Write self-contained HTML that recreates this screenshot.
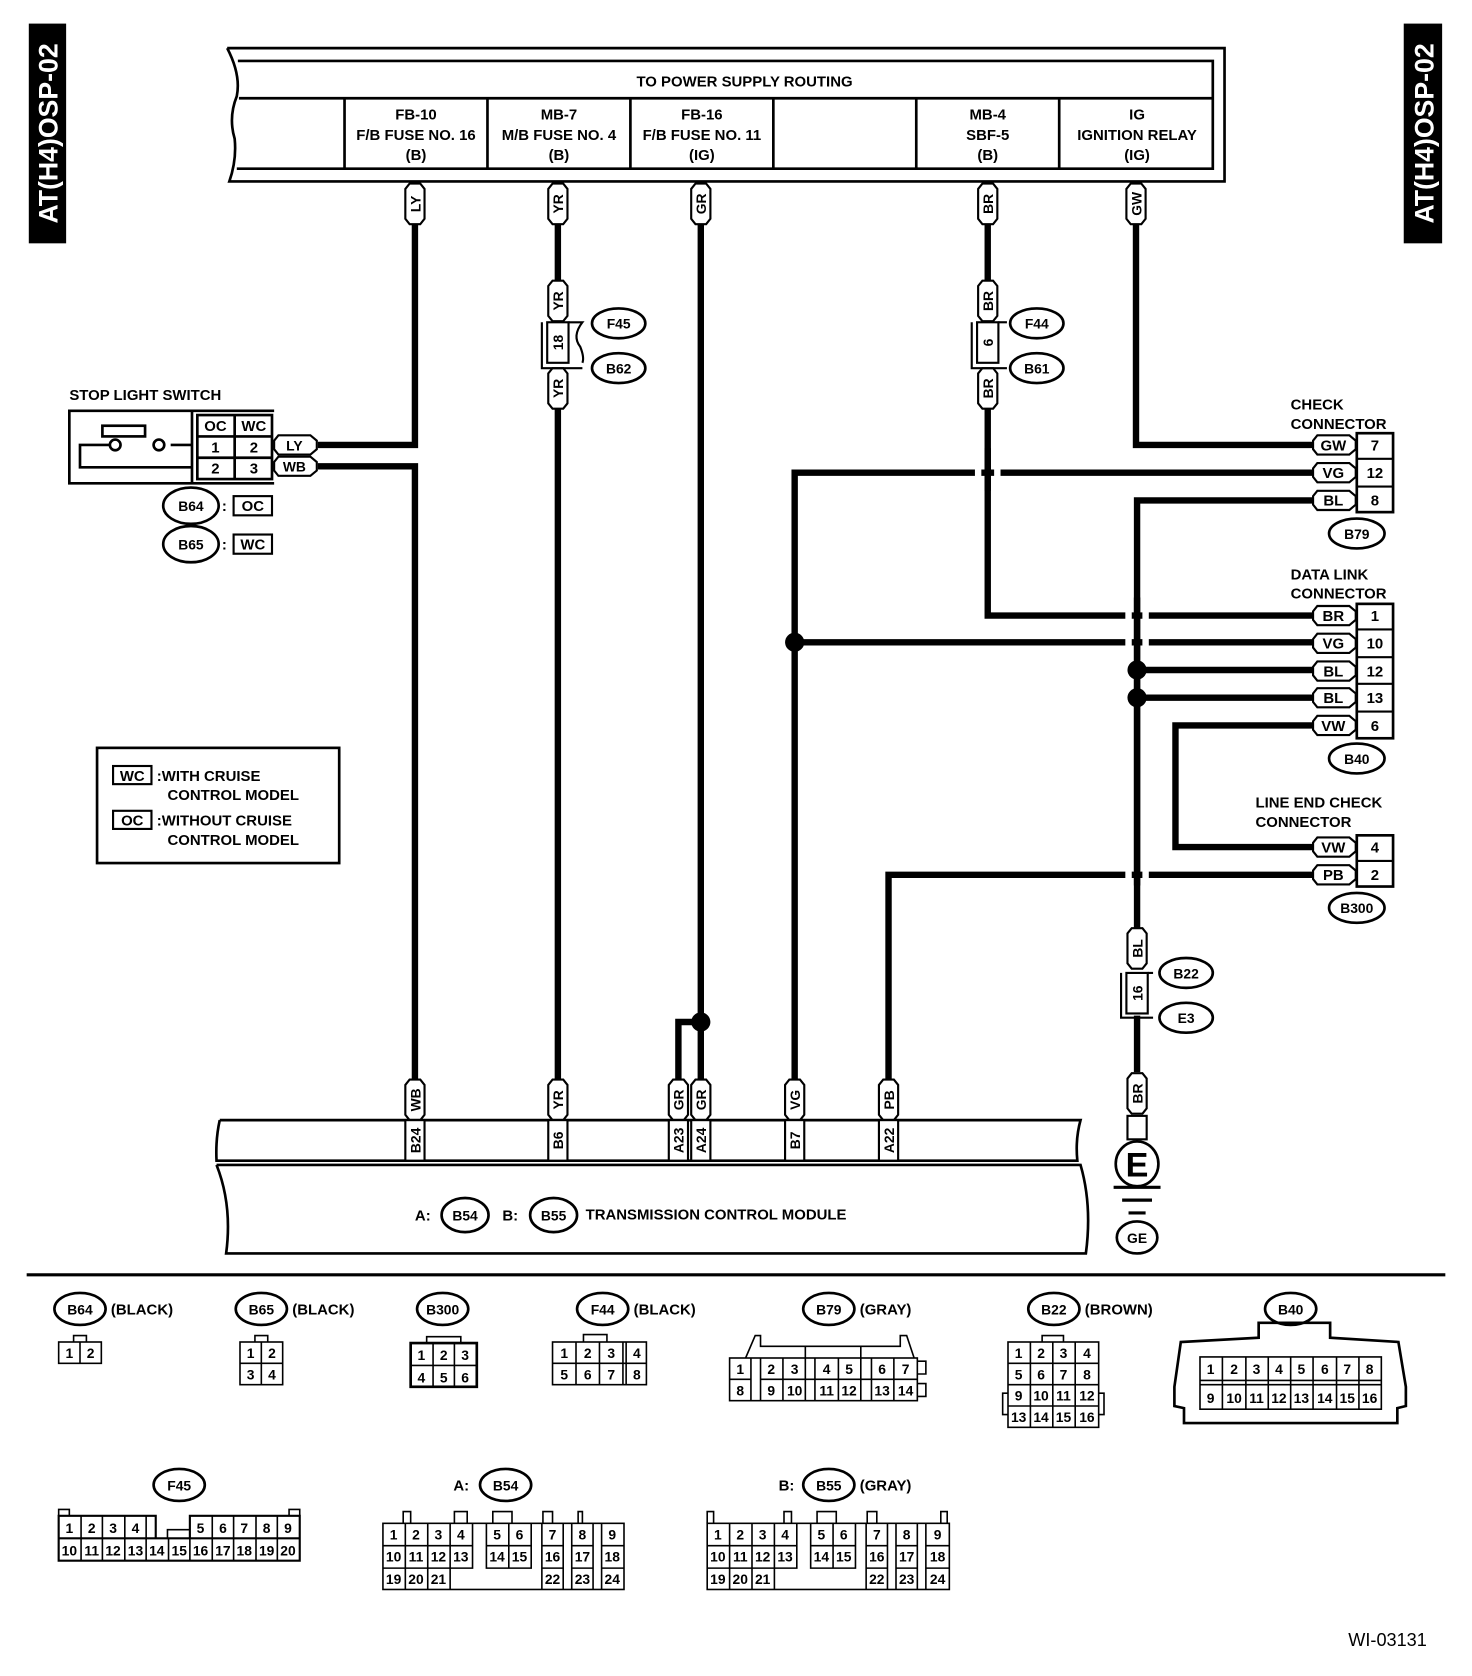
<!DOCTYPE html>
<html><head><meta charset="utf-8"><style>
html,body{margin:0;padding:0;background:#fff}
svg{display:block}
text{font-family:"Liberation Sans",sans-serif;font-weight:bold;fill:#000}
</style></head><body>
<svg width="1472" height="1676" viewBox="0 0 1380 1571" xmlns="http://www.w3.org/2000/svg">
<defs>
<path id="tv" d="M-9,-14 L-5,-19 L5,-19 L9,-14 L9,14 L5,19 L-5,19 L-9,14 Z" fill="#fff" stroke="#000" stroke-width="2"/>
<path id="th" d="M-16,-9 L14,-9 L20,-4 L20,4 L14,9 L-16,9 L-20,4 L-20,-4 Z" fill="#fff" stroke="#000" stroke-width="2"/>
</defs>
<g font-size="14">
<rect x="27" y="22" width="35" height="206" fill="#000"/>
<text transform="translate(54,125) rotate(-90)" text-anchor="middle" font-size="25" style="fill:#fff">AT(H4)OSP-02</text>
<rect x="1316" y="22" width="36" height="206" fill="#000"/>
<text transform="translate(1344,125) rotate(-90)" text-anchor="middle" font-size="25" style="fill:#fff">AT(H4)OSP-02</text>

<g fill="none" stroke="#000" stroke-width="2.5">
<path d="M213,45 L1148,45 L1148,170 L215,170 Q222,150 220,130 Q214,110 222,90 Q226,70 213,45"/>
<path d="M223,57 L1137,57 L1137,158 L222,158"/>
<line x1="224" y1="92" x2="1137" y2="92"/>
<line x1="323" y1="92" x2="323" y2="158"/><line x1="457" y1="92" x2="457" y2="158"/>
<line x1="591" y1="92" x2="591" y2="158"/><line x1="725" y1="92" x2="725" y2="158"/>
<line x1="859" y1="92" x2="859" y2="158"/><line x1="993" y1="92" x2="993" y2="158"/>
</g>
<text x="698" y="81" text-anchor="middle">TO POWER SUPPLY ROUTING</text>
<g text-anchor="middle">
<text x="390" y="112">FB-10</text><text x="390" y="131">F/B FUSE NO. 16</text><text x="390" y="150">(B)</text>
<text x="524" y="112">MB-7</text><text x="524" y="131">M/B FUSE NO. 4</text><text x="524" y="150">(B)</text>
<text x="658" y="112">FB-16</text><text x="658" y="131">F/B FUSE NO. 11</text><text x="658" y="150">(IG)</text>
<text x="926" y="112">MB-4</text><text x="926" y="131">SBF-5</text><text x="926" y="150">(B)</text>
<text x="1066" y="112">IG</text><text x="1066" y="131">IGNITION RELAY</text><text x="1066" y="150">(IG)</text>
</g>

<g fill="none" stroke="#000" stroke-width="6">
<path d="M389,210 L389,417 L298,417"/>
<path d="M298,437 L389,437 L389,1012"/>
<path d="M523,210 L523,265"/><path d="M523,383 L523,1012"/>
<path d="M657,210 L657,1012"/><path d="M657,958 L636,958 L636,1012"/>
<path d="M926,210 L926,265"/><path d="M926,383 L926,577 L1232,577"/>
<path d="M1065,210 L1065,417 L1232,417"/>
<path d="M1232,443 L745,443 L745,1012"/>
<path d="M745,602 L1232,602"/>
<path d="M1232,469 L1066,469 L1066,870"/>
<path d="M1066,628 L1232,628"/><path d="M1066,654 L1232,654"/>
<path d="M1232,680 L1102,680 L1102,794 L1232,794"/>
<path d="M1232,820 L833,820 L833,1012"/>
<path d="M1066,952 L1066,1005"/>
</g>
<g fill="#000">
<circle cx="657" cy="958" r="9"/><circle cx="745" cy="602" r="9"/>
<circle cx="1066" cy="628" r="9"/><circle cx="1066" cy="654" r="9"/>
</g>
<g fill="#fff"><rect x="1055" y="572" width="6" height="36"/><rect x="1071" y="572" width="6" height="36"/>
<rect x="1055" y="814" width="6" height="12"/><rect x="1071" y="814" width="6" height="12"/>
<rect x="914" y="437" width="6" height="12"/><rect x="932" y="437" width="6" height="12"/></g>
<g fill="none" stroke="#000" stroke-width="6"><path d="M926,420 L926,460"/><path d="M1066,560 L1066,830"/></g>

<g>
<use href="#tv" x="389" y="191"/><use href="#tv" x="523" y="191"/><use href="#tv" x="657" y="191"/><use href="#tv" x="926" y="191"/><use href="#tv" x="1065" y="191"/>
<use href="#tv" x="523" y="282"/><use href="#tv" x="523" y="364"/><use href="#tv" x="926" y="282"/><use href="#tv" x="926" y="364"/>
<use href="#tv" x="1066" y="889"/><use href="#tv" x="1066" y="1025"/>
<use href="#tv" x="389" y="1031"/><use href="#tv" x="523" y="1031"/><use href="#tv" x="636" y="1031"/><use href="#tv" x="657" y="1031"/><use href="#tv" x="745" y="1031"/><use href="#tv" x="833" y="1031"/>
</g>
<g text-anchor="middle" font-size="13">
<text transform="translate(394,191) rotate(-90)">LY</text><text transform="translate(528,191) rotate(-90)">YR</text><text transform="translate(662,191) rotate(-90)">GR</text><text transform="translate(931,191) rotate(-90)">BR</text><text transform="translate(1070,191) rotate(-90)">GW</text>
<text transform="translate(528,282) rotate(-90)">YR</text><text transform="translate(528,364) rotate(-90)">YR</text><text transform="translate(931,282) rotate(-90)">BR</text><text transform="translate(931,364) rotate(-90)">BR</text>
<text transform="translate(1071,889) rotate(-90)">BL</text><text transform="translate(1071,1025) rotate(-90)">BR</text>
<text transform="translate(394,1031) rotate(-90)">WB</text><text transform="translate(528,1031) rotate(-90)">YR</text><text transform="translate(641,1031) rotate(-90)">GR</text><text transform="translate(662,1031) rotate(-90)">GR</text><text transform="translate(750,1031) rotate(-90)">VG</text><text transform="translate(838,1031) rotate(-90)">PB</text>
</g>

<g fill="none" stroke="#000" stroke-width="2">
<path d="M508,302 L508,345 L546,345"/><rect x="513" y="302" width="20" height="38"/><path d="M533,302 L546,302 Q536,315 544,325 Q548,335 546,340"/>
<path d="M911,302 L911,345 L944,345"/><rect x="916" y="302" width="20" height="38"/><path d="M936,302 L944,302"/>
<path d="M1051,912 L1051,954 L1081,954"/><rect x="1056" y="912" width="20" height="38"/><path d="M1076,912 L1081,912"/>
</g>
<g text-anchor="middle" font-size="13">
<text transform="translate(528,321) rotate(-90)">18</text>
<text transform="translate(931,321) rotate(-90)">6</text>
<text transform="translate(1071,931) rotate(-90)">16</text>
</g>

<g fill="#fff" stroke="#000" stroke-width="2.5">
<ellipse cx="580" cy="303" rx="25" ry="14"/><ellipse cx="580" cy="345" rx="25" ry="14"/>
<ellipse cx="972" cy="303" rx="25" ry="14"/><ellipse cx="972" cy="345" rx="25" ry="14"/>
<ellipse cx="1112" cy="912" rx="25" ry="14"/><ellipse cx="1112" cy="954" rx="25" ry="14"/>
<ellipse cx="1272" cy="500" rx="26" ry="14"/><ellipse cx="1272" cy="711" rx="26" ry="14"/><ellipse cx="1272" cy="851" rx="26" ry="14"/>
<ellipse cx="179" cy="474" rx="26" ry="17"/><ellipse cx="179" cy="510" rx="26" ry="17"/>
<ellipse cx="436" cy="1139" rx="22" ry="16"/><ellipse cx="519" cy="1139" rx="22" ry="16"/>
<ellipse cx="1066" cy="1160" rx="19" ry="15"/>
</g>
<g text-anchor="middle" font-size="13">
<text x="580" y="308">F45</text><text x="580" y="350">B62</text>
<text x="972" y="308">F44</text><text x="972" y="350">B61</text>
<text x="1112" y="917">B22</text><text x="1112" y="959">E3</text>
<text x="1272" y="505">B79</text><text x="1272" y="716">B40</text><text x="1272" y="856">B300</text>
<text x="179" y="479">B64</text><text x="179" y="515">B65</text>
<text x="436" y="1144">B54</text><text x="519" y="1144">B55</text>
<text x="1066" y="1165">GE</text>
</g>

<text x="65" y="375">STOP LIGHT SWITCH</text>
<g fill="none" stroke="#000" stroke-width="2.5">
<path d="M257,385 L65,385 L65,453 L257,453"/>
<line x1="180" y1="385" x2="180" y2="453"/>
<rect x="185" y="389" width="70" height="60"/>
<line x1="185" y1="409" x2="255" y2="409"/><line x1="185" y1="429" x2="255" y2="429"/><line x1="220" y1="389" x2="220" y2="449"/>
<rect x="96" y="399" width="40" height="10"/>
<path d="M103,417 L75,417 L75,438 L180,438"/><path d="M160,417 L180,417"/>
</g>
<circle cx="108" cy="417" r="5" fill="#fff" stroke="#000" stroke-width="2.5"/>
<circle cx="149" cy="417" r="5" fill="#fff" stroke="#000" stroke-width="2.5"/>
<g text-anchor="middle" font-size="14">
<text x="202" y="404">OC</text><text x="238" y="404">WC</text>
<text x="202" y="424">1</text><text x="238" y="424">2</text>
<text x="202" y="444">2</text><text x="238" y="444">3</text>
</g>
<use href="#th" x="277" y="417"/><use href="#th" x="277" y="437"/>
<text x="276" y="422" text-anchor="middle" font-size="13">LY</text><text x="276" y="442" text-anchor="middle" font-size="13">WB</text>
<text x="208" y="479">:</text><text x="208" y="515">:</text>
<rect x="219" y="465" width="36" height="18" fill="none" stroke="#000" stroke-width="2"/>
<rect x="219" y="501" width="36" height="18" fill="none" stroke="#000" stroke-width="2"/>
<text x="237" y="479" text-anchor="middle">OC</text><text x="237" y="515" text-anchor="middle">WC</text>

<rect x="91" y="701" width="227" height="108" fill="none" stroke="#000" stroke-width="2.5"/>
<rect x="106" y="718" width="36" height="17" fill="none" stroke="#000" stroke-width="2"/>
<rect x="106" y="760" width="36" height="17" fill="none" stroke="#000" stroke-width="2"/>
<text x="124" y="732" text-anchor="middle">WC</text><text x="124" y="774" text-anchor="middle">OC</text>
<text x="147" y="732">:WITH CRUISE</text><text x="157" y="750">CONTROL MODEL</text>
<text x="147" y="774">:WITHOUT CRUISE</text><text x="157" y="792">CONTROL MODEL</text>

<text x="1210" y="384">CHECK</text><text x="1210" y="402">CONNECTOR</text>
<text x="1210" y="543">DATA LINK</text><text x="1210" y="561">CONNECTOR</text>
<text x="1177" y="757">LINE END CHECK</text><text x="1177" y="775">CONNECTOR</text>
<g fill="#fff" stroke="#000" stroke-width="2.5">
<rect x="1272" y="406" width="34" height="74"/><rect x="1272" y="566" width="34" height="126"/><rect x="1272" y="783" width="34" height="48"/>
</g>
<g stroke="#000" stroke-width="2">
<line x1="1272" y1="430" x2="1306" y2="430"/><line x1="1272" y1="456" x2="1306" y2="456"/>
<line x1="1272" y1="590" x2="1306" y2="590"/><line x1="1272" y1="616" x2="1306" y2="616"/><line x1="1272" y1="641" x2="1306" y2="641"/><line x1="1272" y1="667" x2="1306" y2="667"/>
<line x1="1272" y1="807" x2="1306" y2="807"/>
</g>
<g>
<use href="#th" x="1251" y="417"/><use href="#th" x="1251" y="443"/><use href="#th" x="1251" y="469"/>
<use href="#th" x="1251" y="577"/><use href="#th" x="1251" y="603"/><use href="#th" x="1251" y="629"/><use href="#th" x="1251" y="654"/><use href="#th" x="1251" y="680"/>
<use href="#th" x="1251" y="794"/><use href="#th" x="1251" y="820"/>
</g>
<g text-anchor="middle" font-size="14">
<text x="1250" y="422">GW</text><text x="1289" y="422">7</text>
<text x="1250" y="448">VG</text><text x="1289" y="448">12</text>
<text x="1250" y="474">BL</text><text x="1289" y="474">8</text>
<text x="1250" y="582">BR</text><text x="1289" y="582">1</text>
<text x="1250" y="608">VG</text><text x="1289" y="608">10</text>
<text x="1250" y="634">BL</text><text x="1289" y="634">12</text>
<text x="1250" y="659">BL</text><text x="1289" y="659">13</text>
<text x="1250" y="685">VW</text><text x="1289" y="685">6</text>
<text x="1250" y="799">VW</text><text x="1289" y="799">4</text>
<text x="1250" y="825">PB</text><text x="1289" y="825">2</text>
</g>

<g fill="none" stroke="#000" stroke-width="2.5">
<path d="M206,1050 L1013,1050 Q1008,1068 1010,1088 L203,1088 Q202,1068 206,1050"/>
<path d="M203,1092 L1013,1092 Q1024,1130 1018,1175 L212,1175 Q218,1130 203,1092"/>
</g>
<g fill="#fff" stroke="#000" stroke-width="2">
<rect x="380" y="1050" width="18" height="38"/><rect x="514" y="1050" width="18" height="38"/>
<rect x="627" y="1050" width="18" height="38"/><rect x="648" y="1050" width="18" height="38"/>
<rect x="736" y="1050" width="18" height="38"/><rect x="824" y="1050" width="18" height="38"/>
</g>
<g text-anchor="middle" font-size="13">
<text transform="translate(394,1069) rotate(-90)">B24</text><text transform="translate(528,1069) rotate(-90)">B6</text>
<text transform="translate(641,1069) rotate(-90)">A23</text><text transform="translate(662,1069) rotate(-90)">A24</text>
<text transform="translate(750,1069) rotate(-90)">B7</text><text transform="translate(838,1069) rotate(-90)">A22</text>
</g>
<text x="389" y="1144">A:</text><text x="471" y="1144">B:</text>
<text x="549" y="1143">TRANSMISSION CONTROL MODULE</text>

<rect x="1057" y="1046" width="18" height="22" fill="#fff" stroke="#000" stroke-width="2"/>
<line x1="1066" y1="1068" x2="1066" y2="1072" stroke="#000" stroke-width="2"/>
<ellipse cx="1066" cy="1091" rx="20" ry="21" fill="#fff" stroke="#000" stroke-width="2.5"/>
<text x="1066" y="1103" text-anchor="middle" font-size="32">E</text>
<g stroke="#000" stroke-width="3"><line x1="1044" y1="1113" x2="1088" y2="1113"/><line x1="1052" y1="1125" x2="1080" y2="1125"/><line x1="1058" y1="1137" x2="1074" y2="1137"/></g>

<line x1="25" y1="1195" x2="1355" y2="1195" stroke="#000" stroke-width="3"/>

<g fill="#fff" stroke="#000" stroke-width="2.5">
<ellipse cx="75" cy="1227" rx="24" ry="15"/><ellipse cx="245" cy="1227" rx="24" ry="15"/><ellipse cx="415" cy="1227" rx="24" ry="15"/>
<ellipse cx="565" cy="1227" rx="24" ry="15"/><ellipse cx="777" cy="1227" rx="24" ry="15"/><ellipse cx="988" cy="1227" rx="24" ry="15"/>
<ellipse cx="1210" cy="1227" rx="24" ry="15"/><ellipse cx="168" cy="1392" rx="24" ry="15"/><ellipse cx="474" cy="1392" rx="24" ry="15"/><ellipse cx="777" cy="1392" rx="24" ry="15"/>
</g>
<g text-anchor="middle" font-size="13">
<text x="75" y="1232">B64</text><text x="245" y="1232">B65</text><text x="415" y="1232">B300</text><text x="565" y="1232">F44</text>
<text x="777" y="1232">B79</text><text x="988" y="1232">B22</text><text x="1210" y="1232">B40</text>
<text x="168" y="1397">F45</text><text x="474" y="1397">B54</text><text x="777" y="1397">B55</text>
</g>
<text x="104" y="1232">(BLACK)</text><text x="274" y="1232">(BLACK)</text><text x="594" y="1232">(BLACK)</text>
<text x="806" y="1232">(GRAY)</text><text x="1017" y="1232">(BROWN)</text><text x="806" y="1397">(GRAY)</text>
<text x="425" y="1397">A:</text><text x="730" y="1397">B:</text>

<g fill="none" stroke="#000" stroke-width="1.5">
<rect x="55" y="1258" width="40" height="20"/><line x1="75" y1="1258" x2="75" y2="1278"/><path d="M69,1258 V1252 H81 V1258"/>
<rect x="225" y="1258" width="40" height="40"/><line x1="245" y1="1258" x2="245" y2="1298"/><line x1="225" y1="1278" x2="265" y2="1278"/><path d="M239,1258 V1252 H251 V1258"/>
<rect x="385" y="1259" width="62" height="41" stroke-width="2.5"/><line x1="406" y1="1259" x2="406" y2="1300"/><line x1="426" y1="1259" x2="426" y2="1300"/><line x1="385" y1="1280" x2="447" y2="1280"/><path d="M400,1259 V1253 H432 V1259"/>
<rect x="518" y="1258" width="88" height="40"/><line x1="540" y1="1258" x2="540" y2="1298"/><line x1="562" y1="1258" x2="562" y2="1298"/><line x1="584" y1="1258" x2="584" y2="1298"/><line x1="587" y1="1258" x2="587" y2="1298"/><line x1="518" y1="1278" x2="606" y2="1278"/><path d="M547,1258 V1251 H569 V1258"/>
<rect x="684" y="1273" width="176" height="40"/><line x1="684" y1="1293" x2="704" y2="1293"/><line x1="713" y1="1293" x2="860" y2="1293"/>
<line x1="704" y1="1273" x2="704" y2="1313"/><line x1="713" y1="1273" x2="713" y2="1313"/><line x1="734" y1="1273" x2="734" y2="1313"/><line x1="755" y1="1273" x2="755" y2="1313"/><line x1="764" y1="1273" x2="764" y2="1313"/><line x1="786" y1="1273" x2="786" y2="1313"/><line x1="807" y1="1273" x2="807" y2="1313"/><line x1="817" y1="1273" x2="817" y2="1313"/><line x1="838" y1="1273" x2="838" y2="1313"/>
<path d="M699,1273 L708,1252 H713 V1262 H844 V1252 H850 L857,1273"/><line x1="755" y1="1262" x2="755" y2="1273"/><line x1="807" y1="1262" x2="807" y2="1273"/>
<path d="M860,1276 H868 V1288 H860 M860,1297 H868 V1309 H860"/>
<rect x="945" y="1258" width="85" height="80"/><line x1="966" y1="1258" x2="966" y2="1338"/><line x1="987" y1="1258" x2="987" y2="1338"/><line x1="1008" y1="1258" x2="1008" y2="1338"/>
<line x1="945" y1="1278" x2="1030" y2="1278"/><line x1="945" y1="1298" x2="1030" y2="1298"/><line x1="945" y1="1318" x2="1030" y2="1318"/>
<path d="M977,1258 V1252 H997 V1258"/><path d="M945,1306 H940 V1326 H945 M1030,1306 H1035 V1326 H1030"/>
<path d="M1101,1300 L1107,1258 L1180,1254 V1240 H1247 V1254 L1311,1258 L1318,1300 V1318 L1310,1320 V1334 H1110 V1320 L1101,1318 Z" stroke-width="2.5"/>
<rect x="1125" y="1272" width="170" height="49"/><line x1="1125" y1="1294" x2="1295" y2="1294"/><line x1="1125" y1="1298" x2="1295" y2="1298"/>
<line x1="1146" y1="1272" x2="1146" y2="1321"/><line x1="1168" y1="1272" x2="1168" y2="1321"/><line x1="1189" y1="1272" x2="1189" y2="1321"/><line x1="1210" y1="1272" x2="1210" y2="1321"/><line x1="1231" y1="1272" x2="1231" y2="1321"/><line x1="1253" y1="1272" x2="1253" y2="1321"/><line x1="1274" y1="1272" x2="1274" y2="1321"/>
<!-- F45 -->
<path d="M55,1442 H281 V1463 H55 Z M55,1442 V1421 H146 V1442 M178,1442 V1421 H281 V1442" stroke-width="2"/>
<path d="M55,1421 V1415 H65 V1421 M271,1421 V1415 H281 V1421 M157,1442 V1434 H178"/>
<line x1="76" y1="1421" x2="76" y2="1463"/><line x1="96" y1="1421" x2="96" y2="1463"/><line x1="117" y1="1421" x2="117" y2="1463"/><line x1="137" y1="1421" x2="137" y2="1463"/><line x1="158" y1="1442" x2="158" y2="1463"/><line x1="178" y1="1442" x2="178" y2="1463"/>
<line x1="199" y1="1421" x2="199" y2="1463"/><line x1="219" y1="1421" x2="219" y2="1463"/><line x1="240" y1="1421" x2="240" y2="1463"/><line x1="260" y1="1421" x2="260" y2="1463"/>
<rect x="359" y="1428" width="226" height="62"/>
<path d="M359,1449 H443 M359,1470 H422 M380,1428 V1490 M401,1428 V1490 M422,1428 V1490 M443,1428 V1470 H422 M456,1428 V1470 H498 V1428 M477,1428 V1470 M456,1449 H498 M508,1428 V1490 M528,1428 V1490 M508,1449 H528 M508,1470 H528 M536,1428 V1490 M556,1428 V1490 M536,1449 H556 M536,1470 H556 M564,1428 V1490 M564,1449 H585 M564,1470 H585"/>
<path d="M378,1428 V1417 H385 V1428 M426,1428 V1417 H438 V1428 M462,1428 V1417 H480 V1428 M509,1428 V1417 H518 V1428 M542,1428 V1417 H546 V1428"/>
<rect x="663" y="1428" width="227" height="62"/>
<path d="M663,1449 H747 M663,1470 H726 M684,1428 V1490 M705,1428 V1490 M726,1428 V1490 M747,1428 V1470 H726 M760,1428 V1470 H802 V1428 M781,1428 V1470 M760,1449 H802 M812,1428 V1490 M832,1428 V1490 M812,1449 H832 M812,1470 H832 M840,1428 V1490 M860,1428 V1490 M840,1449 H860 M840,1470 H860 M868,1428 V1490 M868,1449 H890 M868,1470 H890"/>
<path d="M663,1428 V1417 H669 V1428 M735,1428 V1417 H742 V1428 M766,1428 V1417 H784 V1428 M813,1428 V1417 H822 V1428 M882,1428 V1417 H888 V1428"/>
</g>
<g text-anchor="middle" font-size="13" style="font-weight:normal">
<text x="65" y="1273">1</text><text x="85" y="1273">2</text>
<text x="235" y="1273">1</text><text x="255" y="1273">2</text><text x="235" y="1293">3</text><text x="255" y="1293">4</text>
<text x="395" y="1275">1</text><text x="416" y="1275">2</text><text x="436" y="1275">3</text><text x="395" y="1296">4</text><text x="416" y="1296">5</text><text x="436" y="1296">6</text>
<text x="529" y="1273">1</text><text x="551" y="1273">2</text><text x="573" y="1273">3</text><text x="597" y="1273">4</text><text x="529" y="1293">5</text><text x="551" y="1293">6</text><text x="573" y="1293">7</text><text x="597" y="1293">8</text>
<text x="694" y="1288">1</text><text x="723" y="1288">2</text><text x="745" y="1288">3</text><text x="775" y="1288">4</text><text x="796" y="1288">5</text><text x="827" y="1288">6</text><text x="849" y="1288">7</text>
<text x="694" y="1308">8</text><text x="723" y="1308">9</text><text x="745" y="1308">10</text><text x="775" y="1308">11</text><text x="796" y="1308">12</text><text x="827" y="1308">13</text><text x="849" y="1308">14</text>
<text x="955" y="1273">1</text><text x="976" y="1273">2</text><text x="997" y="1273">3</text><text x="1019" y="1273">4</text>
<text x="955" y="1293">5</text><text x="976" y="1293">6</text><text x="997" y="1293">7</text><text x="1019" y="1293">8</text>
<text x="955" y="1313">9</text><text x="976" y="1313">10</text><text x="997" y="1313">11</text><text x="1019" y="1313">12</text>
<text x="955" y="1333">13</text><text x="976" y="1333">14</text><text x="997" y="1333">15</text><text x="1019" y="1333">16</text>
<text x="1135" y="1288">1</text><text x="1157" y="1288">2</text><text x="1178" y="1288">3</text><text x="1199" y="1288">4</text><text x="1220" y="1288">5</text><text x="1242" y="1288">6</text><text x="1263" y="1288">7</text><text x="1284" y="1288">8</text>
<text x="1135" y="1315">9</text><text x="1157" y="1315">10</text><text x="1178" y="1315">11</text><text x="1199" y="1315">12</text><text x="1220" y="1315">13</text><text x="1242" y="1315">14</text><text x="1263" y="1315">15</text><text x="1284" y="1315">16</text>
<text x="65" y="1437">1</text><text x="86" y="1437">2</text><text x="106" y="1437">3</text><text x="127" y="1437">4</text><text x="188" y="1437">5</text><text x="209" y="1437">6</text><text x="229" y="1437">7</text><text x="250" y="1437">8</text><text x="270" y="1437">9</text>
<text x="65" y="1458">10</text><text x="86" y="1458">11</text><text x="106" y="1458">12</text><text x="127" y="1458">13</text><text x="147" y="1458">14</text><text x="168" y="1458">15</text><text x="188" y="1458">16</text><text x="209" y="1458">17</text><text x="229" y="1458">18</text><text x="250" y="1458">19</text><text x="270" y="1458">20</text>
<text x="369" y="1443">1</text><text x="390" y="1443">2</text><text x="411" y="1443">3</text><text x="432" y="1443">4</text><text x="466" y="1443">5</text><text x="487" y="1443">6</text><text x="518" y="1443">7</text><text x="546" y="1443">8</text><text x="574" y="1443">9</text>
<text x="369" y="1464">10</text><text x="390" y="1464">11</text><text x="411" y="1464">12</text><text x="432" y="1464">13</text><text x="466" y="1464">14</text><text x="487" y="1464">15</text><text x="518" y="1464">16</text><text x="546" y="1464">17</text><text x="574" y="1464">18</text>
<text x="369" y="1485">19</text><text x="390" y="1485">20</text><text x="411" y="1485">21</text><text x="518" y="1485">22</text><text x="546" y="1485">23</text><text x="574" y="1485">24</text>
<text x="673" y="1443">1</text><text x="694" y="1443">2</text><text x="715" y="1443">3</text><text x="736" y="1443">4</text><text x="770" y="1443">5</text><text x="791" y="1443">6</text><text x="822" y="1443">7</text><text x="850" y="1443">8</text><text x="879" y="1443">9</text>
<text x="673" y="1464">10</text><text x="694" y="1464">11</text><text x="715" y="1464">12</text><text x="736" y="1464">13</text><text x="770" y="1464">14</text><text x="791" y="1464">15</text><text x="822" y="1464">16</text><text x="850" y="1464">17</text><text x="879" y="1464">18</text>
<text x="673" y="1485">19</text><text x="694" y="1485">20</text><text x="715" y="1485">21</text><text x="822" y="1485">22</text><text x="850" y="1485">23</text><text x="879" y="1485">24</text>
</g>
<text x="1264" y="1543" font-size="17" style="font-weight:normal">WI-03131</text>
</g>
</svg>
</body></html>
